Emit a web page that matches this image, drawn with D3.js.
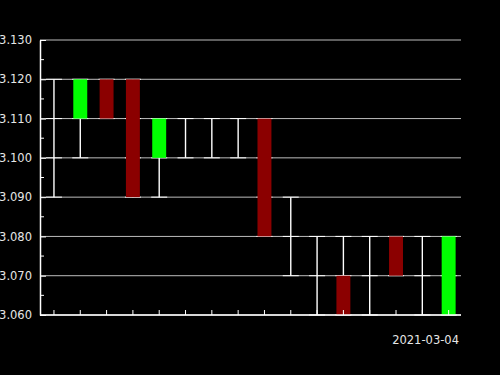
<!DOCTYPE html>
<html>
<head>
<meta charset="utf-8">
<script src="https://cdn.jsdelivr.net/npm/d3@7"></script>
<style>
  html, body { margin: 0; padding: 0; background: #000; }
  svg { display: block; }
  text { font-family: "DejaVu Sans", sans-serif; }
</style>
</head>
<body>
<svg id="chart" width="500" height="375"></svg>
<script>
// Candle data: open, high, low, close per session
const sessions = ["1","2","3","4","5","6","7","8","9","10","11","12","13","14","15","16"];
const opens  = [3.11, 3.11, 3.12, 3.12, 3.10, 3.11, 3.11, 3.11, 3.11, 3.08, 3.07, 3.07, 3.07, 3.08, 3.07, 3.06];
const highs  = [3.12, 3.12, 3.12, 3.12, 3.11, 3.11, 3.11, 3.11, 3.11, 3.09, 3.08, 3.08, 3.08, 3.08, 3.08, 3.08];
const lows   = [3.09, 3.10, 3.11, 3.09, 3.09, 3.10, 3.10, 3.10, 3.08, 3.07, 3.06, 3.06, 3.06, 3.07, 3.06, 3.06];
const closes = [3.11, 3.12, 3.11, 3.09, 3.11, 3.11, 3.11, 3.11, 3.08, 3.08, 3.07, 3.06, 3.07, 3.07, 3.07, 3.08];
const yTicks = [3.06, 3.07, 3.08, 3.09, 3.10, 3.11, 3.12, 3.13];
const yMinorTicks = [3.065, 3.075, 3.085, 3.095, 3.105, 3.115, 3.125];
const dateLabel = "2021-03-04";

const candles = sessions.map((s, i) => ({
  s, o: opens[i], h: highs[i], l: lows[i], c: closes[i]
}));

const svg = d3.select("#chart");
const mLeft = 40, mRight = 461, mTop = 40, mBottom = 315;

const x = d3.scaleBand().domain(sessions).range([mLeft + 0.8, mRight + 0.8]).paddingInner(0.47).paddingOuter(0.235);
const cx = s => x(s) + x.bandwidth() / 2;
const y = d3.scaleLinear().domain([3.06, 3.13]).range([mBottom, mTop]);

// horizontal grid
svg.append("g").selectAll("line").data(yTicks).join("line")
  .attr("x1", mLeft).attr("x2", mRight)
  .attr("y1", d => y(d)).attr("y2", d => y(d))
  .attr("stroke", "#bdbdbd").attr("stroke-width", 1);

// brighter grid segments where a candle's range crosses a grid level
const crossings = [];
candles.forEach(d => yTicks.forEach(t => {
  if (t >= d.l - 1e-9 && t <= d.h + 1e-9) crossings.push({ s: d.s, t });
}));
svg.append("g").selectAll("line").data(crossings).join("line")
  .attr("x1", d => cx(d.s) - 8).attr("x2", d => cx(d.s) + 8)
  .attr("y1", d => y(d.t)).attr("y2", d => y(d.t))
  .attr("stroke", "#ffffff").attr("stroke-width", 1);

// wicks
svg.append("g").selectAll("line").data(candles).join("line")
  .attr("x1", d => cx(d.s)).attr("x2", d => cx(d.s))
  .attr("y1", d => y(d.h)).attr("y2", d => y(d.l))
  .attr("stroke", "#ffffff").attr("stroke-width", 1.4);

// bodies
svg.append("g").selectAll("rect").data(candles.filter(d => d.o !== d.c)).join("rect")
  .attr("x", d => x(d.s))
  .attr("width", x.bandwidth())
  .attr("y", d => y(Math.max(d.o, d.c)))
  .attr("height", d => Math.abs(y(d.o) - y(d.c)))
  .attr("fill", d => d.c > d.o ? "#00ff00" : "#8b0000");

// y axis
const yAxis = svg.append("g").attr("transform", `translate(${mLeft},0)`)
  .call(d3.axisLeft(y).tickValues(yTicks).tickFormat(d3.format(".3f")).tickSizeInner(-6).tickSizeOuter(0).tickPadding(8));
yAxis.select(".domain").attr("stroke", "#fff").attr("stroke-width", 1.5);
yAxis.selectAll(".tick line").attr("stroke", "#fff");
yAxis.selectAll(".tick text").attr("fill", "#e6e6e6").attr("font-size", 11.5)
  .attr("x", -8);
svg.append("g").selectAll("line").data(yMinorTicks).join("line")
  .attr("x1", mLeft).attr("x2", mLeft + 4)
  .attr("y1", d => y(d)).attr("y2", d => y(d))
  .attr("stroke", "#fff").attr("stroke-width", 1);

// x axis
const xAxis = svg.append("g").attr("transform", `translate(0,${mBottom})`)
  .call(d3.axisBottom(x).tickSizeInner(-5).tickSizeOuter(0).tickFormat(""));
xAxis.select(".domain").attr("stroke", "#fff").attr("stroke-width", 1.5)
  .attr("d", `M${mLeft},0H${mRight}`);
xAxis.selectAll(".tick line").attr("stroke", "#fff");

svg.append("text")
  .attr("x", 459).attr("y", 344)
  .attr("text-anchor", "end")
  .attr("fill", "#e6e6e6").attr("font-size", 11.5)
  .text(dateLabel);
</script>
</body>
</html>
